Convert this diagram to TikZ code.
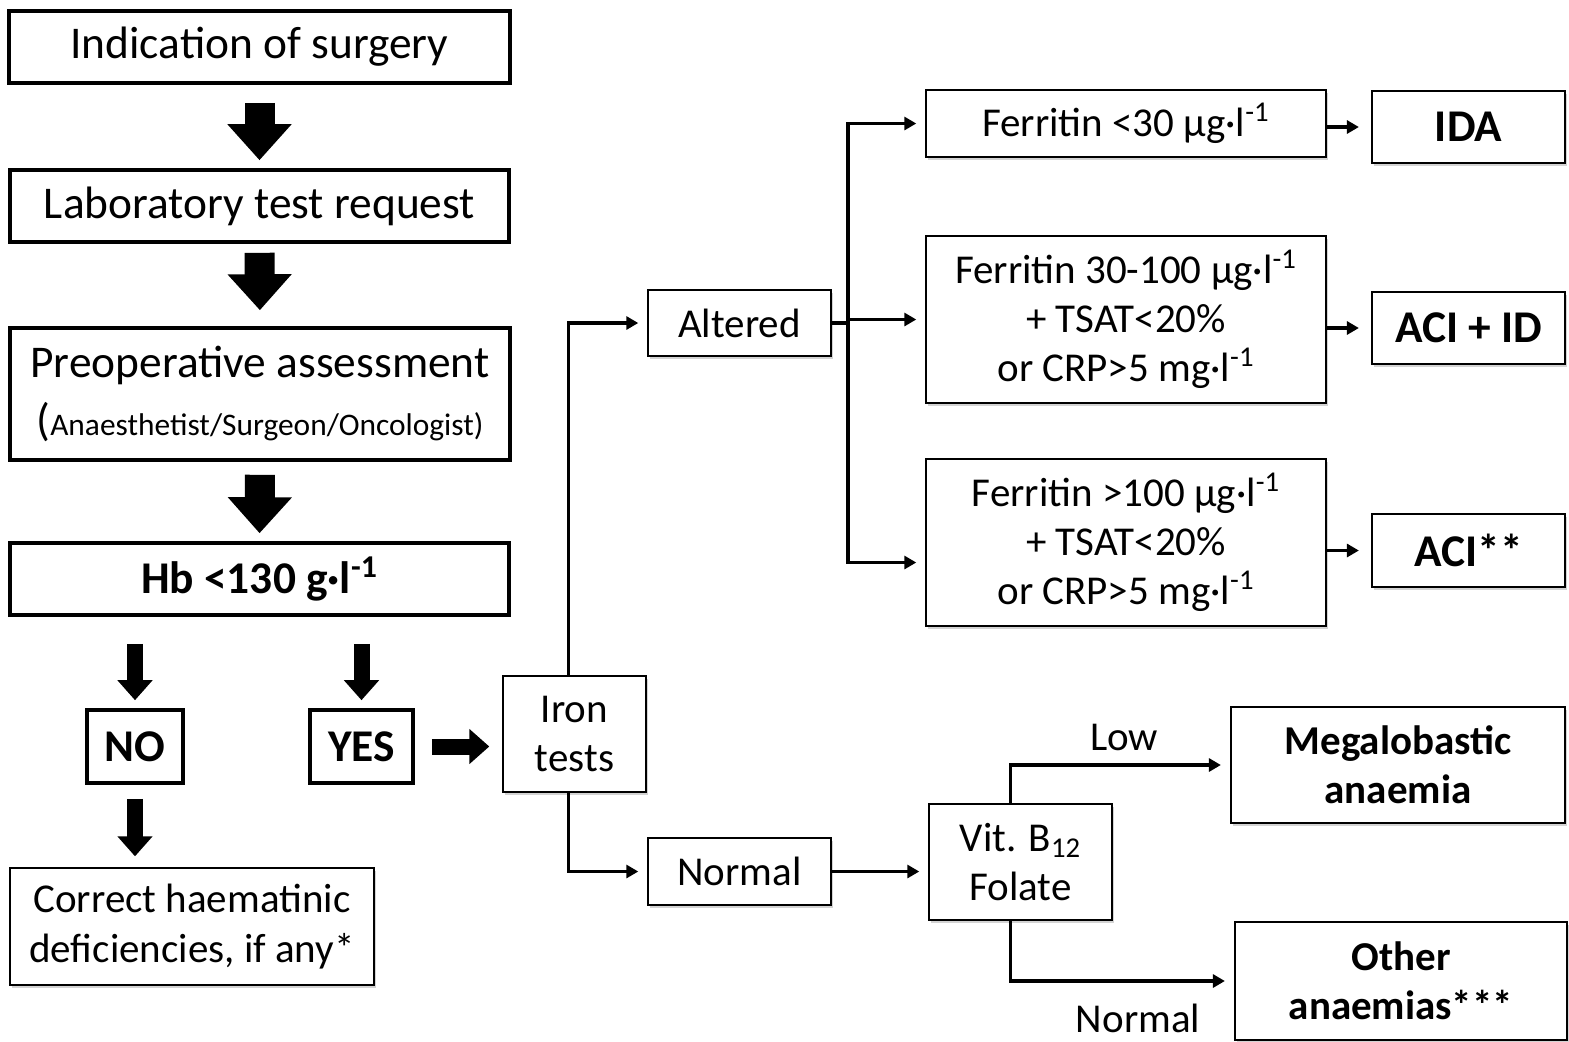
\documentclass[tikz,border=0pt]{standalone}
\usepackage{fontspec}
\setmainfont{Carlito}
\usepackage{tikz}
\usetikzlibrary{arrows.meta,shadows}

\newcommand{\largetxt}{\fontsize{22.7}{27}\selectfont}
\newcommand{\normtxt}{\fontsize{20.5}{24.6}\selectfont}
\newcommand{\smalltxt}{\fontsize{15.7}{19}\selectfont}

\begin{document}
\begin{tikzpicture}[x=0.5pt, y=-0.5pt,
  thickbox/.style={draw, line width=1.8pt, fill=white, inner sep=0pt, align=center, font=\largetxt},
  thinbox/.style={draw, line width=0.7pt, fill=white, inner sep=0pt, align=center, font=\normtxt,
    drop shadow={shadow xshift=1.2pt, shadow yshift=-1.5pt, opacity=0.35}},
  resbox/.style={thinbox, line width=1.1pt, font=\largetxt\bfseries},
  conn/.style={line width=1.9pt, -{Triangle[length=6pt,width=6.5pt]}, shorten >=4.5pt},
  bigarrow/.style={line width=15pt, -{Triangle[length=18pt,width=31pt]}},
  smallarrow/.style={line width=8pt, -{Triangle[length=10pt,width=17pt]}}]
\useasboundingbox (0,0) rectangle (1569,1041);

%draw left column
\node[thickbox, minimum width=250.5pt, minimum height=36pt] (ind) at (259.5,47) {Indication of surgery};
\node[thickbox, minimum width=249.5pt, minimum height=36pt] (lab) at (259.5,206) {Laboratory test request};
\node[thickbox, minimum width=250pt, minimum height=66pt] (pre) at (260,394)
  {Preoperative assessment\\[2pt]({\smalltxt Anaesthetist/Surgeon/Oncologist)}};
\node[thickbox, minimum width=249.5pt, minimum height=36pt, font=\largetxt\bfseries] (hb) at (259.5,579)
  {Hb <130 g·l\textsuperscript{-1}};
\node[thickbox, minimum width=48pt, minimum height=36.5pt, font=\largetxt\bfseries] (no) at (135,746.5) {NO};
\node[thickbox, minimum width=51.5pt, minimum height=36.5pt, font=\largetxt\bfseries] (yes) at (361.5,746.5) {YES};
\node[thinbox, minimum width=182pt, minimum height=58.5pt] (cor) at (192,926.5) {Correct haematinic\\deficiencies, if any*};

%draw middle boxes
\node[thinbox, minimum width=71.5pt, minimum height=58pt] (iron) at (574.5,734) {Iron\\tests};
\node[thinbox, minimum width=91.5pt, minimum height=33pt] (alt) at (739.5,323) {Altered};
\node[thinbox, minimum width=91.5pt, minimum height=33.5pt] (nor) at (739.5,871.5) {Normal};

%draw ferritin boxes
\node[thinbox, minimum width=200pt, minimum height=33.5pt] (fa) at (1126,123.5) {Ferritin <30 µg·l\textsuperscript{-1}};
\node[thinbox, minimum width=200pt, minimum height=83.5pt] (fb) at (1126,319.5)
  {Ferritin 30-100 µg·l\textsuperscript{-1}\\+ TSAT<20\%\\or CRP>5 mg·l\textsuperscript{-1}};
\node[thinbox, minimum width=200pt, minimum height=83.5pt] (fc) at (1126,542.5)
  {Ferritin >100 µg·l\textsuperscript{-1}\\+ TSAT<20\%\\or CRP>5 mg·l\textsuperscript{-1}};

%draw results
\node[resbox, minimum width=96.5pt, minimum height=36pt] (ida) at (1468.5,127) {IDA};
\node[resbox, minimum width=96.5pt, minimum height=36pt] (aid) at (1468.5,328) {ACI + ID};
\node[resbox, minimum width=96.5pt, minimum height=36.5pt] (aci) at (1468.5,550.5) {ACI**};

%draw vitamin branch
\node[thinbox, minimum width=91.5pt, minimum height=58pt] (vit) at (1020.5,862) {Vit. B\textsubscript{12}\\Folate};
\node[resbox, font=\normtxt\bfseries, minimum width=167pt, minimum height=58pt] (meg) at (1398,765) {Megalobastic\\anaemia};
\node[resbox, font=\normtxt\bfseries, minimum width=166pt, minimum height=59pt] (oth) at (1401,981) {Other\\anaemias***};
\node[font=\normtxt] (lowlbl) at (1124,737) {Low};
\node[font=\normtxt] (normlbl) at (1138,1018) {Normal};

%draw block arrows
\draw[bigarrow, shorten <=9pt, shorten >=4pt] (ind.south) -- (lab.north);
\draw[bigarrow, shorten <=4.5pt, shorten >=8pt] (lab.south) -- (pre.north);
\draw[bigarrow, shorten <=6.5pt, shorten >=4pt] (pre.south) -- (hb.north);
\draw[smallarrow, shorten <=13.5pt, shorten >=4pt] (no.north |- hb.south) -- (no.north);
\draw[smallarrow, shorten <=13.5pt, shorten >=4pt] (yes.north |- hb.south) -- (yes.north);
\draw[smallarrow, shorten <=7pt, shorten >=5.5pt] (no.south) -- (no.south |- cor.north);
\draw[smallarrow, shorten <=8.5pt, shorten >=6.5pt] (yes.east) -- (yes.east -| iron.west);

%draw connectors
\draw[conn] ([xshift=-3pt]iron.north) |- (alt.west);
\draw[conn] ([xshift=-3pt]iron.south) |- (nor.west);
\coordinate (split) at ([xshift=8pt]alt.east);
\draw[line width=1.9pt] (alt.east) -- (split);
\draw[conn] (split) |- (fa.west);
\draw[conn] (split) |- (fb.west);
\draw[conn] (split) |- ([yshift=-10pt]fc.west);
\draw[conn, shorten >=6pt] (fa.east |- ida.west) -- (ida.west);
\draw[conn, shorten >=6pt] (fb.east |- aid.west) -- (aid.west);
\draw[conn, shorten >=6pt] (fc.east |- aci.west) -- (aci.west);
\draw[conn] (nor.east) -- (nor.east -| vit.west);
\draw[conn] ([xshift=-5pt]vit.north) |- (meg.west);
\draw[conn] ([xshift=-5pt]vit.south) |- (oth.west);
\end{tikzpicture}
\end{document}
